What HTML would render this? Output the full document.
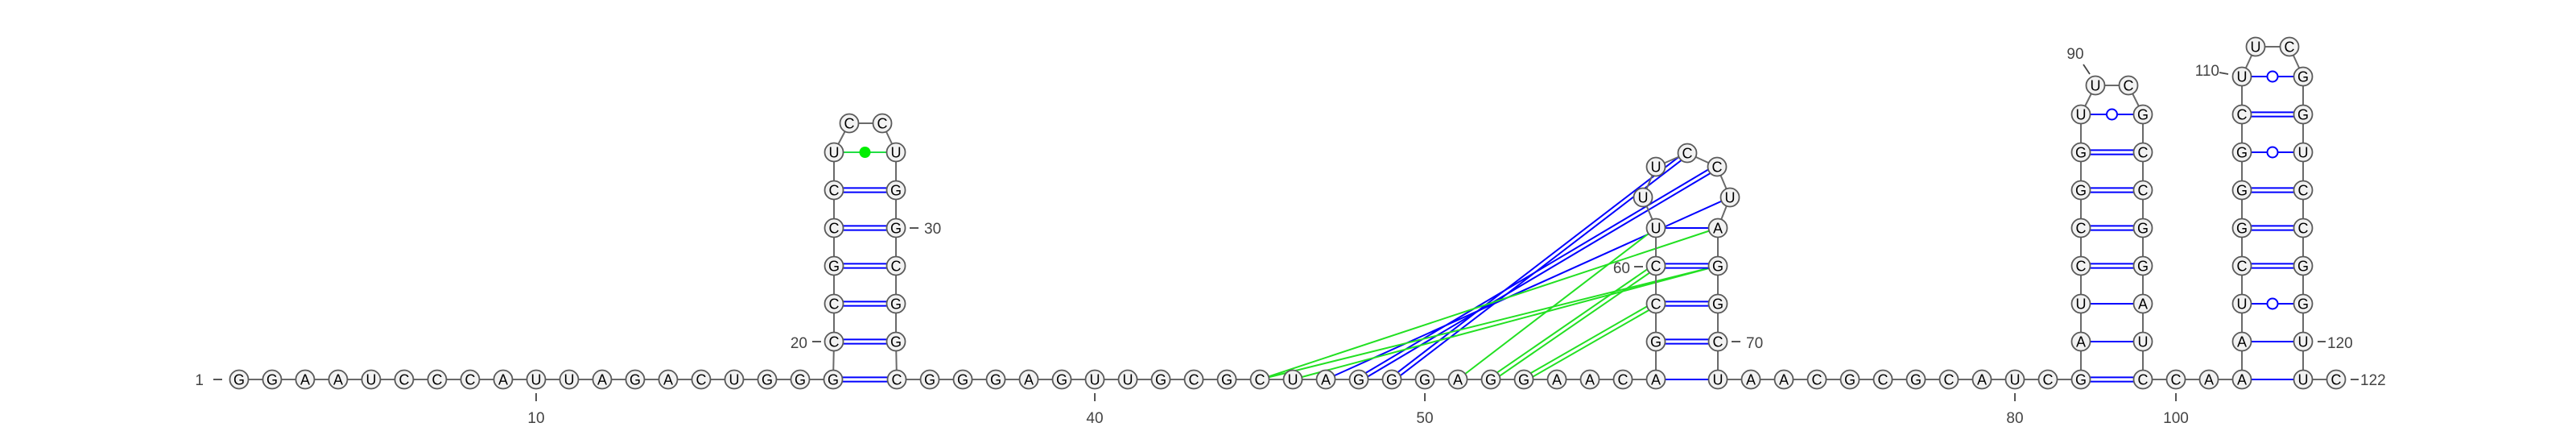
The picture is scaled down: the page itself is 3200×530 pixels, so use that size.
<!DOCTYPE html>
<html><head><meta charset="utf-8"><style>
html,body{margin:0;padding:0;background:#fff;}
svg{display:block;font-family:"Liberation Sans",sans-serif;}
</style></head><body>
<svg id="rna" width="3200" height="530" viewBox="0 0 3200 530" xmlns="http://www.w3.org/2000/svg">
<g id="pairs"></g>
<g id="backbone"></g>
<g id="nodes"></g>
<g id="labels"></g>
</svg>
<script>
const sequence = "GGAAUCCCAUUAGACUGGG"+"CCGCCU"+"CC"+"UGGCGG"+"CGGGAGUUGCGCUAGGGAGGAACA"+"GCCU"+"UUCCU"+"AGGC"+"UAACGCGCAUCG"+"AUCCGGU"+"UC"+"GCCGGAU"+"CCAA"+"AUCGGGCU"+"UC"+"GGUCCGGUU"+"C";
// base pairs: [i, j, type]  type: double | single | wobble | greendot
const stemPairs = [[19,34,"double"],[20,33,"double"],[21,32,"double"],[22,31,"double"],[23,30,"double"],[24,29,"double"],[25,28,"greendot"],
[57,71,"single"],[58,70,"double"],[59,69,"double"],[60,68,"double"],[61,67,"single"],
[82,99,"double"],[83,98,"single"],[84,97,"single"],[85,96,"double"],[86,95,"double"],[87,94,"double"],[88,93,"double"],[89,92,"wobble"],
[102,121,"single"],[103,120,"single"],[104,119,"wobble"],[105,118,"double"],[106,117,"double"],[107,116,"double"],[108,115,"wobble"],[109,114,"double"],[110,113,"wobble"]];
// pseudoknot interactions: [i, j, color, lines]
const knotPairs = [[47,66,"blue",1],[48,65,"blue",2],[49,64,"blue",2],
[45,67,"green",1],[45,68,"green",1],[46,68,"green",1],[51,61,"green",1],[52,60,"green",2],[53,59,"green",2]];
const tickLabels = [10,40,50,80,100];

// layout
const pos = {};
const S=41, V=47, B=471;
function lay(){
  for(let i=1;i<=19;i++) pos[i]=[297+S*(i-1),B];
  for(let i=20;i<=25;i++) pos[i]=[1036,B-V*(i-19)];
  pos[26]=[1055,153]; pos[27]=[1096,153];
  for(let i=28;i<=33;i++) pos[i]=[1113,B-V*(34-i)];
  for(let i=34;i<=57;i++) pos[i]=[1360+S*(i-40),B];
  for(let i=58;i<=61;i++) pos[i]=[2057,B-V*(i-57)];
  pos[62]=[2041,245]; pos[63]=[2057,207]; pos[64]=[2096,190]; pos[65]=[2133,207]; pos[66]=[2149,245];
  for(let i=67;i<=70;i++) pos[i]=[2134,B-V*(71-i)];
  for(let i=71;i<=82;i++) pos[i]=[2134+S*(i-71),B];
  for(let i=83;i<=89;i++) pos[i]=[2585,B-V*(i-82)];
  pos[90]=[2603,106]; pos[91]=[2644,106];
  for(let i=92;i<=98;i++) pos[i]=[2662,B-V*(99-i)];
  for(let i=99;i<=102;i++) pos[i]=[2662+S*(i-99),B];
  for(let i=103;i<=110;i++) pos[i]=[2785,B-V*(i-102)];
  pos[111]=[2802,58]; pos[112]=[2844,58];
  for(let i=113;i<=120;i++) pos[i]=[2861,B-V*(121-i)];
  pos[121]=[2861,B]; pos[122]=[2902,B];
}
lay();
const NS="http://www.w3.org/2000/svg";
function mk(tag,attrs,parent){const e=document.createElementNS(NS,tag);for(const k in attrs)e.setAttribute(k,attrs[k]);parent.appendChild(e);return e;}
const gP=document.getElementById('pairs'),gB=document.getElementById('backbone'),gN=document.getElementById('nodes'),gL=document.getElementById('labels');
function lines(a,b,color,n){
  const [x1,y1]=pos[a],[x2,y2]=pos[b];
  const dx=x2-x1,dy=y2-y1,L=Math.hypot(dx,dy),nx=-dy/L,ny=dx/L;
  const offs=n===2?[-2.6,2.6]:[0];
  offs.forEach(o=>{
    const l=mk('line',{x1:x1+nx*o,y1:y1+ny*o,x2:x2+nx*o,y2:y2+ny*o,stroke:color,'stroke-width':2},gP);
    
    
  });
}
knotPairs.forEach(p=>lines(p[0],p[1],p[2]==="blue"?"#0000ff":"#22e022",p[3]));
stemPairs.forEach(p=>{
  const t=p[2];
  if(t==="double") lines(p[0],p[1],"#0000ff",2);
  else if(t==="single") lines(p[0],p[1],"#0000ff",1);
  else if(t==="wobble"){
    lines(p[0],p[1],"#0000ff",1);
    const c=mk('circle',{cx:(pos[p[0]][0]+pos[p[1]][0])/2,cy:(pos[p[0]][1]+pos[p[1]][1])/2,r:6.5,fill:"#fff",stroke:"#0000ff",'stroke-width':2},gP);
    
    
  } else {
    lines(p[0],p[1],"#22dd44",1);
    const c=mk('circle',{cx:(pos[p[0]][0]+pos[p[1]][0])/2,cy:(pos[p[0]][1]+pos[p[1]][1])/2,r:7,fill:"#00ee00"},gP);
    
    
  }
});
for(let i=1;i<122;i++){
  const l=mk('line',{x1:pos[i][0],y1:pos[i][1],x2:pos[i+1][0],y2:pos[i+1][1],stroke:"#6a6a6a",'stroke-width':2},gB);
  
  
}
for(let i=1;i<=122;i++){
  const g=mk('g',{},gN);
  
  
  mk('circle',{cx:pos[i][0],cy:pos[i][1],r:11.5,fill:"#f2f2f2",stroke:"#5a5a5a",'stroke-width':1.8},g);
  const t=mk('text',{x:pos[i][0],y:pos[i][1]+6.5,'text-anchor':'middle','font-size':18,fill:'#000'},g);
  t.textContent=sequence[i-1];
}
function label(txt,x,y,anchor){
  const t=mk('text',{x:x,y:y,'text-anchor':anchor,'font-size':19,fill:'#444'},gL);
  
  
  t.textContent=txt;
}
function dash(x1,y1,x2,y2){
  const l=mk('line',{x1,y1,x2,y2,stroke:'#444','stroke-width':1.8},gL);
  
  
}
tickLabels.forEach(n=>{
  const x=pos[n][0];
  dash(x,488,x,498);
  label(String(n),x,525,'middle');
});
label("1",253,478,'end'); dash(265,471,276,471);
label("20",1003,432,'end'); dash(1009,424,1020,424);
dash(1130,283,1141,283); label("30",1148,290,'start');
label("60",2025,339,'end'); dash(2030,331,2041,331);
dash(2151,424,2162,424); label("70",2169,432,'start');
label("90",2578,73,'middle'); dash(2588,80,2596,92);
label("110",2757,94,'end'); dash(2757,90,2768,92);
dash(2879,424,2889,424); label("120",2891,432,'start');
dash(2920,471,2930,471); label("122",2932,478,'start');
</script>
</body></html>
